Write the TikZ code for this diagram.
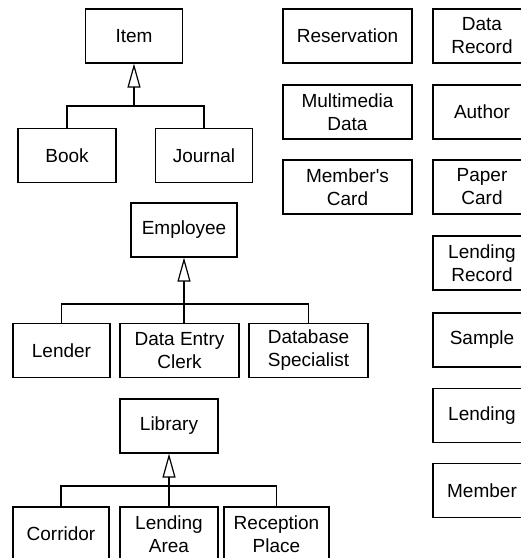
\documentclass[tikz,border=0pt]{standalone}
\usepackage{fontspec}
\setmainfont{Liberation Sans}
\usetikzlibrary{arrows.meta}
\begin{document}
\begin{tikzpicture}[x=1pt,y=-1pt,
		cls/.style={draw,line width=1.2pt,inner sep=0pt,minimum height=54pt,align=center,font=\fontsize{19}{23}\selectfont},
		gen/.style={line width=1.2pt,-{Triangle[open,length=24pt,width=13pt]}},
		tree/.style={line width=1.2pt}]
		\useasboundingbox (0,0) rectangle (521,558);
		\clip (0,0) rectangle (521,558);
		\node [cls,minimum width=97pt] (item) at (134,36) {Item};
		\node [cls,minimum width=98pt] (book) at (67,155.5) {Book};
		\node [cls,minimum width=97pt] (journal) at (204,155.5) {Journal};
		\node [cls,minimum width=106pt] (employee) at (184,230) {Employee};
		\node [cls,minimum width=97pt] (lender) at (61.5,350.5) {Lender};
		\node [cls,minimum width=119pt] (dataentry) at (179.5,350.5) {Data Entry\\Clerk};
		\node [cls,minimum width=119pt] (dbspecialist) at (308.5,350.5) {Database\\Specialist};
		\node [cls,minimum width=98pt] (library) at (169,426) {Library};
		\node [cls,minimum width=96pt] (corridor) at (61,534) {Corridor};
		\node [cls,minimum width=98pt] (lendingarea) at (169,534) {Lending\\Area};
		\node [cls,minimum width=105pt] (reception) at (276.5,534) {Reception\\Place};
		\node [cls,minimum width=129pt] (reservation) at (347.5,36) {Reservation};
		\node [cls,minimum width=129pt] (multimedia) at (347.5,112) {Multimedia\\Data};
		\node [cls,minimum width=129pt] (memberscard) at (347.5,187) {Member\textquotesingle s\\Card};
		\node [cls,minimum width=98pt] (datarecord) at (482,36) {Data\\Record};
		\node [cls,minimum width=98pt] (author) at (482,112) {Author};
		\node [cls,minimum width=98pt] (papercard) at (482,187) {Paper\\Card};
		\node [cls,minimum width=98pt] (lendingrecord) at (482,263) {Lending\\Record};
		\node [cls,minimum width=98pt] (sample) at (482,340) {Sample};
		\node [cls,minimum width=98pt] (lending) at (482,415.5) {Lending};
		\node [cls,minimum width=98pt] (member) at (482,490.5) {Member};
		\coordinate (itembar) at (item.south |- 0,106);
		\coordinate (empbar) at (employee.south |- 0,304);
		\coordinate (libbar) at (library.south |- 0,486);
		\draw [tree] (book.north) |- (itembar) -| (journal.north);
		\draw [gen] (itembar) to (item.south);
		\draw [tree] (lender.north) |- (empbar) -| (dbspecialist.north);
		\draw [tree] (empbar) to (empbar |- dataentry.north);
		\draw [gen] (empbar) to (employee.south);
		\draw [tree] (corridor.north) |- (libbar) -| (reception.north);
		\draw [tree] (libbar) to (lendingarea.north);
		\draw [gen] (libbar) to (library.south);
	\end{tikzpicture}
\end{document}
